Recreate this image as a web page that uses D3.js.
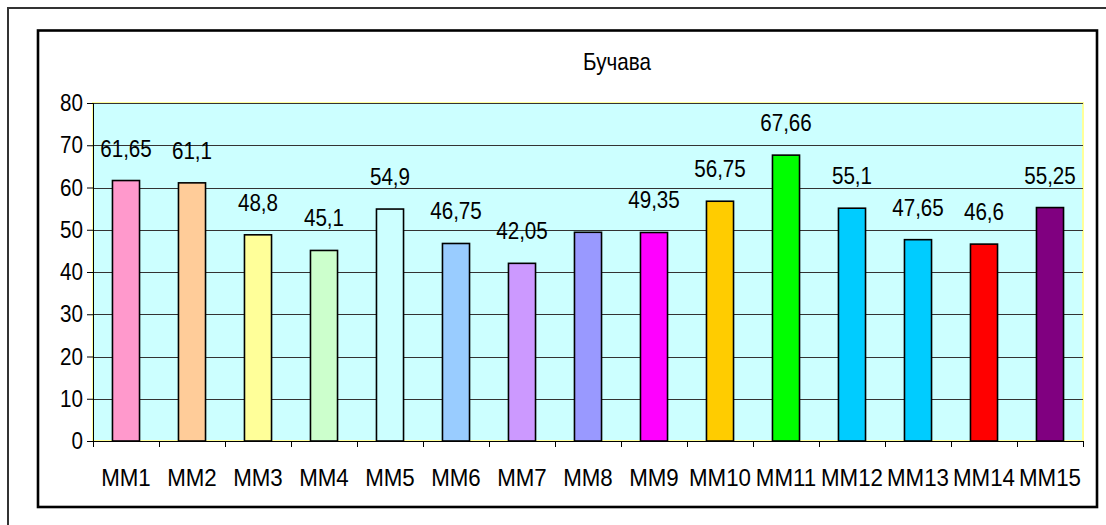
<!DOCTYPE html>
<html><head><meta charset="utf-8">
<script src="https://cdn.jsdelivr.net/npm/d3@7"></script>
<style>
html,body{margin:0;padding:0;background:#fff;}
svg{display:block;}
text{font-family:"Liberation Sans",Arial,sans-serif;fill:#000;}
</style></head>
<body>
<svg id="chart" width="1106" height="525"></svg>
<script>
const categories = ["MM1","MM2","MM3","MM4","MM5","MM6","MM7","MM8","MM9","MM10","MM11","MM12","MM13","MM14","MM15"];
const values = [61.65,61.1,48.8,45.1,54.9,46.75,42.05,49.4,49.35,56.75,67.66,55.1,47.65,46.6,55.25];
const valueLabels = ["61,65","61,1","48,8","45,1","54,9","46,75","42,05",null,"49,35","56,75","67,66","55,1","47,65","46,6","55,25"];
const barColors = ["#ff99cc","#ffcc99","#ffff99","#ccffcc","#ccffff","#99ccff","#cc99ff","#9999ff","#ff00ff","#ffcc00","#00ff00","#00ccff","#00ccff","#ff0000","#800080"];
const yTicks = [0,10,20,30,40,50,60,70,80];
const title = "Бучава";

const svg = d3.select("#chart");
const plot = {left:93, right:1083, top:103, bottom:441};
const FS = 24, SX = 0.86, SXC = 0.93;

// outer frame
svg.append("rect").attr("x",8).attr("y",8).attr("width",1200).attr("height",600)
  .attr("fill","none").attr("stroke","#333").attr("stroke-width",2);
// chart area frame
svg.append("rect").attr("x",38).attr("y",30.5).attr("width",1059).attr("height",476.5)
  .attr("fill","#fff").attr("stroke","#000").attr("stroke-width",2.6);

const x = d3.scaleBand().domain(categories).range([plot.left, plot.right]).paddingInner(0.59).paddingOuter(0.295);
const band = d3.scaleBand().domain(categories).range([plot.left, plot.right]);
const y = d3.scaleLinear().domain([0,80]).range([plot.bottom, plot.top]);

// plot background
svg.append("rect").attr("x",plot.left).attr("y",plot.top)
  .attr("width",plot.right-plot.left).attr("height",plot.bottom-plot.top)
  .attr("fill","#ccffff").attr("stroke","#ffff99").attr("stroke-width",2);

// gridlines
svg.append("g").selectAll("line").data(yTicks.filter(d=>d>0)).join("line")
  .attr("x1",plot.left).attr("x2",plot.right)
  .attr("y1",d=>Math.round(y(d))+0.5).attr("y2",d=>Math.round(y(d))+0.5)
  .attr("stroke","#333").attr("stroke-width",1);

// bars
svg.append("g").selectAll("rect").data(values).join("rect")
  .attr("x",(d,i)=>x(categories[i]))
  .attr("y",d=>y(d))
  .attr("width",x.bandwidth())
  .attr("height",d=>y(0)-y(d))
  .attr("fill",(d,i)=>barColors[i])
  .attr("stroke","#000").attr("stroke-width",1.6);

// value labels
svg.append("g").selectAll("text").data(values).join("text")
  .attr("transform",(d,i)=>`translate(${x(categories[i])+x.bandwidth()/2},${y(d)-24}) scale(${SX},1)`)
  .attr("text-anchor","middle")
  .attr("font-size",FS)
  .text((d,i)=>valueLabels[i]);

// y axis
const yAxis = svg.append("g").attr("transform",`translate(${plot.left},0)`)
  .call(d3.axisLeft(y).tickValues(yTicks).tickSize(6).tickPadding(4).tickFormat(d3.format("d")));
yAxis.select(".domain").attr("stroke","#000").attr("stroke-width",1);
yAxis.selectAll(".tick line").attr("stroke","#000");
yAxis.selectAll(".tick text").attr("font-size",FS)
  .attr("font-family","'Liberation Sans',Arial,sans-serif").attr("fill","#000")
  .attr("x",-10/SX).attr("dy","0.32em").attr("transform",`scale(${SX},1)`);

// x axis
const xAxis = svg.append("g").attr("transform",`translate(0,${plot.bottom})`)
  .call(d3.axisBottom(band).tickSize(0).tickPadding(0));
xAxis.select(".domain").attr("stroke","#000").attr("stroke-width",1);
xAxis.selectAll(".tick text").attr("font-size",FS)
  .attr("font-family","'Liberation Sans',Arial,sans-serif").attr("fill","#000")
  .attr("dy",null).attr("y",45).attr("transform",`scale(${SXC},1)`);
// boundary ticks
const bounds = categories.map(c=>band(c)).concat([plot.right]);
svg.append("g").selectAll("line").data(bounds).join("line")
  .attr("x1",d=>Math.round(d)+0.5).attr("x2",d=>Math.round(d)+0.5)
  .attr("y1",plot.bottom).attr("y2",plot.bottom+6)
  .attr("stroke","#000");

// title
svg.append("text").attr("transform",`translate(617,70) scale(${SX},1)`).attr("text-anchor","middle")
  .attr("font-size",FS).text(title);
</script>
</body></html>
